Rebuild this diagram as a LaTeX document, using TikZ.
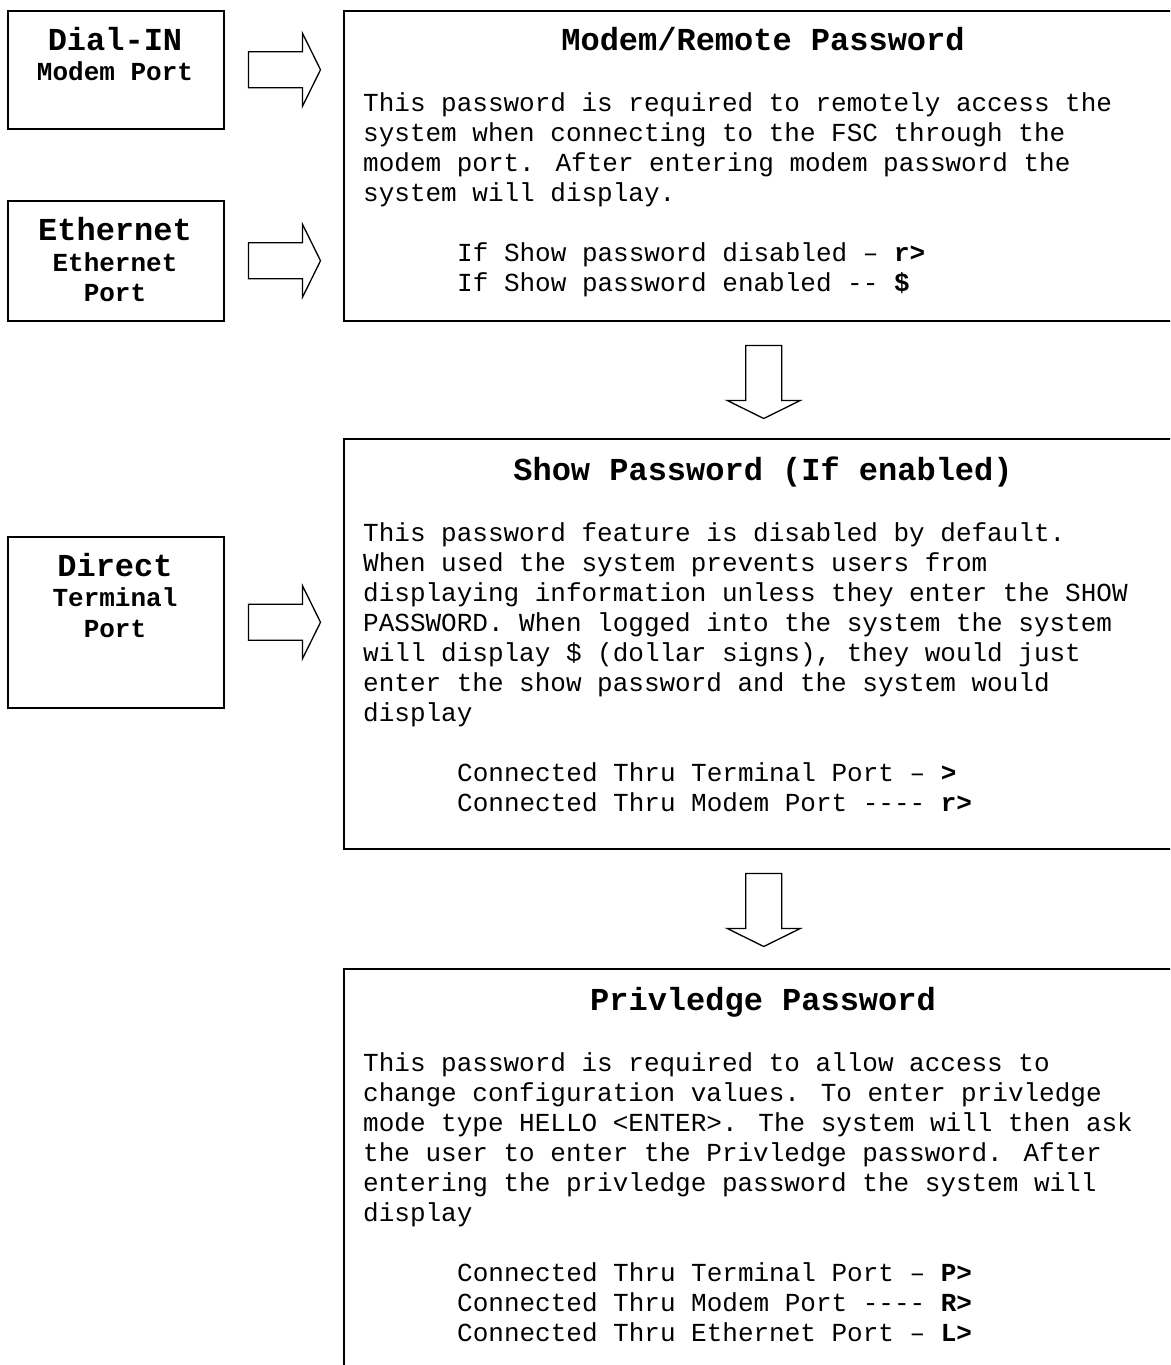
\documentclass[tikz,border=0pt]{standalone}
\usepackage{fontspec}
\setmainfont{Liberation Mono}
\begin{document}
\begin{tikzpicture}[x=1pt,y=-1pt,
  box/.style={draw=black,line width=1.5pt,rectangle,inner sep=0pt,anchor=north west},
  blk/.style={draw=black,line width=1.3pt,fill=white,line join=miter},
  body/.style={inner sep=0pt,anchor=base west,font=\fontsize{26}{30}\selectfont},
  ttl/.style={inner sep=0pt,anchor=base,font=\fontsize{32}{36}\selectfont\bfseries},
  sml/.style={inner sep=0pt,anchor=base,font=\fontsize{26}{30}\selectfont\bfseries}]
\useasboundingbox (0,0) rectangle (1170,1365);
\clip (0,0) rectangle (1170,1365);
\fill[white] (0,0) rectangle (1170,1365);
% left boxes
\node[box,minimum width=216pt,minimum height=118pt] (dial) at (7,10) {};
\node[box,minimum width=216pt,minimum height=120pt] (eth) at (7,200) {};
\node[box,minimum width=216pt,minimum height=171pt] (dir) at (7,536) {};
\node[ttl] (dialA) at (115,50) {Dial-IN};
\node[sml] (dialB) at (115,80) {Modem Port};
\node[ttl] (ethA) at (115,240) {Ethernet};
\node[sml] (ethB) at (115,271) {Ethernet};
\node[sml] (ethC) at (115,301) {Port};
\node[ttl] (dirA) at (115,576) {Direct};
\node[sml] (dirB) at (115,606) {Terminal};
\node[sml] (dirC) at (115,637) {Port};
% big boxes
\node[box,minimum width=840pt,minimum height=310pt] (b1) at (343,10) {};
\node[box,minimum width=840pt,minimum height=410pt] (b2) at (343,438) {};
\node[box,minimum width=840pt,minimum height=480pt] (b3) at (343,968) {};
% box 1 text
\node[ttl] (b1t) at (763,50) {Modem/Remote Password};
\node[body] (b1a) at (363,111) {This password is required to remotely access the};
\node[body] (b1b) at (363,141) {system when connecting to the FSC through the};
\node[body] (b1c) at (363,171) {modem port. After entering modem password the};
\node[body] (b1d) at (363,201) {system will display.};
\node[body] (b1e) at (457,261) {If Show password disabled – \textbf{r>}};
\node[body] (b1f) at (457,291) {If Show password enabled -{}- \textbf{\$}};
% box 2 text
\node[ttl] (b2t) at (763,480) {Show Password (If enabled)};
\node[body] (b2a) at (363,541) {This password feature is disabled by default.};
\node[body] (b2b) at (363,571) {When used the system prevents users from};
\node[body] (b2c) at (363,601) {displaying information unless they enter the SHOW};
\node[body] (b2d) at (363,631) {PASSWORD. When logged into the system the system};
\node[body] (b2e) at (363,661) {will display \$ (dollar signs), they would just};
\node[body] (b2f) at (363,691) {enter the show password and the system would};
\node[body] (b2g) at (363,721) {display};
\node[body] (b2h) at (457,781) {Connected Thru Terminal Port – \textbf{>}};
\node[body] (b2i) at (457,811) {Connected Thru Modem Port -{}-{}-{}- \textbf{r>}};
% box 3 text
\node[ttl] (b3t) at (763,1010) {Privledge Password};
\node[body] (b3a) at (363,1071) {This password is required to allow access to};
\node[body] (b3b) at (363,1101) {change configuration values. To enter privledge};
\node[body] (b3c) at (363,1131) {mode type HELLO <ENTER>. The system will then ask};
\node[body] (b3d) at (363,1161) {the user to enter the Privledge password. After};
\node[body] (b3e) at (363,1191) {entering the privledge password the system will};
\node[body] (b3f) at (363,1221) {display};
\node[body] (b3g) at (457,1281) {Connected Thru Terminal Port – \textbf{P>}};
\node[body] (b3h) at (457,1311) {Connected Thru Modem Port -{}-{}-{}- \textbf{R>}};
\node[body] (b3i) at (457,1341) {Connected Thru Ethernet Port – \textbf{L>}};
% block arrows
\path (dial.east) ++(24,0) coordinate (r1);
\path (eth.east) ++(24,0) coordinate (r2);
\path (dir.east) ++(24,0) coordinate (r3);
\foreach \c in {r1,r2,r3}{
  \draw[blk] (\c) ++(0,-18) -- ++(54,0) -- ++(0,-18.5) -- ++(18,36.5) -- ++(-18,36.5) -- ++(0,-18.5) -- ++(-54,0) -- cycle;
}
\path (b1.south) ++(0,24) coordinate (d1);
\path (b2.south) ++(0,24) coordinate (d2);
\foreach \c in {d1,d2}{
  \draw[blk] (\c) ++(-18,0) -- ++(0,55) -- ++(-18.5,0) -- ++(36.5,18) -- ++(36.5,-18) -- ++(-18.5,0) -- ++(0,-55) -- cycle;
}
\end{tikzpicture}
\end{document}
